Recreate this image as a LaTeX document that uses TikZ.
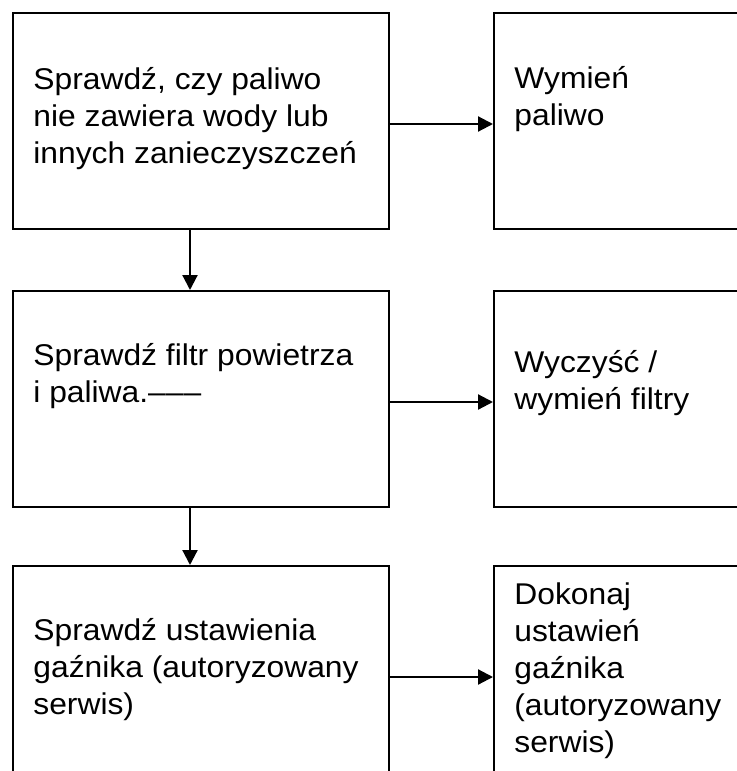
\documentclass[tikz,border=0pt]{standalone}
\usepackage{fontspec}
\setmainfont{Liberation Sans}[FakeStretch=1.06]
\usetikzlibrary{arrows.meta,positioning}
\tikzset{
  flowarrow/.style={-{Triangle[length=7.5pt, width=7.5pt]}, line width=1.1pt, draw=black},
  checkbox/.style={draw=black, line width=1pt, inner sep=0pt, minimum width=188pt, minimum height=108pt},
  actionbox/.style={checkbox, minimum width=130pt},
  boxtext/.style={anchor=base west, align=left, inner sep=0pt, font=\fontsize{15pt}{18.5pt}\selectfont}
}

\begin{document}
\begin{tikzpicture}[node distance=30pt and 51.5pt]
  \useasboundingbox (0,0) rectangle (368pt,-385.5pt);
  % left column: checks, right column: actions
  \node[checkbox, anchor=north west] (fuel) at (6pt,-6pt) {};
  \node[actionbox, right=of fuel] (swapfuel) {};
  \node[checkbox, below=of fuel] (filter) {};
  \node[actionbox, right=of filter] (cleanfilter) {};
  \node[checkbox, below=28.5pt of filter] (carb) {};
  \node[actionbox, right=of carb] (setcarb) {};

  % texts: base = baseline of the last line
  \node[boxtext] (fueltxt) at ([shift={(10.5pt,-75.5pt)}]fuel.north west) {Sprawdź, czy paliwo\\nie zawiera wody lub\\innych zanieczyszczeń};
  \node[boxtext] (swapfueltxt) at ([shift={(10.5pt,-56.5pt)}]swapfuel.north west) {Wymień\\paliwo};
  \node[boxtext] (filtertxt) at ([shift={(10.5pt,-56pt)}]filter.north west) {Sprawdź filtr powietrza\\i paliwa.–––};
  \node[boxtext] (cleanfiltertxt) at ([shift={(10.5pt,-59.5pt)}]cleanfilter.north west) {Wyczyść /\\wymień filtry};
  \node[boxtext] (carbtxt) at ([shift={(10.5pt,-74.5pt)}]carb.north west) {Sprawdź ustawienia\\gaźnika (autoryzowany\\serwis)};
  \node[boxtext] (setcarbtxt) at ([shift={(10.5pt,-93.5pt)}]setcarb.north west) {Dokonaj\\ustawień\\gaźnika\\(autoryzowany\\serwis)};

  \draw[flowarrow] ([yshift=-1.5pt]fuel.east) -- ([yshift=-1.5pt]fuel.east -| swapfuel.west);
  \draw[flowarrow] ([yshift=-1.5pt]filter.east) -- ([yshift=-1.5pt]filter.east -| cleanfilter.west);
  \draw[flowarrow] ([yshift=-1.5pt]carb.east) -- ([yshift=-1.5pt]carb.east -| setcarb.west);
  \draw[flowarrow] ([xshift=-5.5pt]fuel.south) -- ([xshift=-5.5pt]fuel.south |- filter.north);
  \draw[flowarrow] ([xshift=-5.5pt]filter.south) -- ([xshift=-5.5pt]filter.south |- carb.north);
\end{tikzpicture}
\end{document}
